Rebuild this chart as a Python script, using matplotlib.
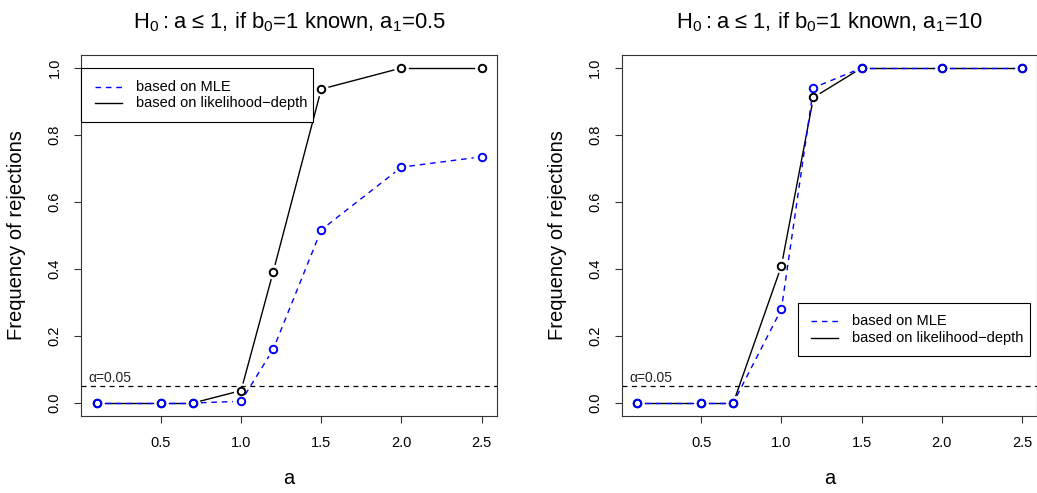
import numpy as np
import matplotlib
matplotlib.use('Agg')
import matplotlib.pyplot as plt
from matplotlib.patches import Rectangle

plt.rcParams['font.family'] = ['Liberation Sans', 'DejaVu Sans']
plt.rcParams['mathtext.fontset'] = 'custom'
plt.rcParams['mathtext.rm'] = 'Liberation Sans'
plt.rcParams['mathtext.it'] = 'Liberation Sans:italic'

# values of a at which the tests were run
a_vals = [0.1, 0.5, 0.7, 1.0, 1.2, 1.5, 2.0, 2.5]

# left panel: a1 = 0.5
mle_left = [0.0, 0.0, 0.0, 0.005, 0.16, 0.517, 0.704, 0.735]
depth_left = [0.0, 0.0, 0.0, 0.037, 0.391, 0.937, 1.0, 1.0]

# right panel: a1 = 10
mle_right = [0.0, 0.0, 0.0, 0.28, 0.941, 1.0, 1.0, 1.0]
depth_right = [0.0, 0.0, 0.0, 0.409, 0.912, 1.0, 1.0, 1.0]

alpha = 0.05
x_ticks = [0.5, 1.0, 1.5, 2.0, 2.5]
y_ticks = [0.0, 0.2, 0.4, 0.6, 0.8, 1.0]

W, H = 1037, 493
fig = plt.figure(figsize=(W / 100, H / 100), dpi=100)

ax_w, ax_h = 415.8, 361.8  # axes size in pixels
TICK_FS = 10.5
LAB_FS = 14.5
TITLE_FS = 15.8


def draw_type_b(ax, x, y, color, dashed, gap=8.0):
    # R style type="b": points joined by lines that stop short of each point
    pts = ax.transData.transform(np.column_stack([x, y]))
    inv = ax.transData.inverted()
    for i in range(len(pts) - 1):
        p0, p1 = pts[i], pts[i + 1]
        d = p1 - p0
        L = np.hypot(*d)
        if L <= 2 * gap:
            continue
        u = d / L
        seg = inv.transform(np.array([p0 + u * gap, p1 - u * gap]))
        ln, = ax.plot(seg[:, 0], seg[:, 1], color=color, lw=1.0)
        if dashed:
            ln.set_dashes((4, 3.5))
    ax.plot(x, y, 'o', color=color, mfc='none', ms=5.4, mew=1.4, ls='none')


def draw_legend(ax, x0, y0):
    # x0, y0: top-left corner of legend box, pixels from axes top-left
    fx = lambda px: (x0 + px) / ax_w
    fy = lambda py: 1 - (y0 + py) / ax_h
    ax.add_patch(Rectangle((fx(0), fy(53.4)), 232 / ax_w, 53.4 / ax_h,
                           transform=ax.transAxes, fill=True, fc='white',
                           ec='black', lw=0.8, zorder=5, clip_on=False))
    rows = [('based on MLE', 'blue', True), ('based on likelihood\u2212depth', 'black', False)]
    for k, (lab, col, dashed) in enumerate(rows):
        yy = fy(18.4 + k * 16.6)
        ln, = ax.plot([fx(13.7), fx(40.7)], [yy, yy], color=col, lw=1.0,
                      transform=ax.transAxes, zorder=6, clip_on=False)
        if dashed:
            ln.set_dashes((4, 3.5))
        ax.text(fx(54.7), yy, lab, transform=ax.transAxes, fontsize=TICK_FS,
                va='center', ha='left', zorder=6)


def panel(left_px, a1_text, mle, depth, legend_pos):
    ax = fig.add_axes([left_px / W, (H - 416.4) / H, ax_w / W, ax_h / H])
    ax.set_xlim(0.004, 2.596)
    ax.set_ylim(-0.04, 1.04)

    ax.axhline(alpha, color='black', lw=0.9, dashes=(4, 3.5))
    ax.text(0.05, alpha + 0.004, '\u03b1=0.05', fontsize=TICK_FS - 0.5,
            ha='left', va='bottom', color='#222222')

    draw_type_b(ax, a_vals, depth, 'black', dashed=False)
    draw_type_b(ax, a_vals, mle, 'blue', dashed=True)

    ax.set_xticks(x_ticks)
    ax.set_xticklabels(['%.1f' % v for v in x_ticks], fontsize=TICK_FS)
    ax.set_yticks(y_ticks)
    ax.set_yticklabels(['%.1f' % v for v in y_ticks], fontsize=TICK_FS,
                       rotation=90, va='center')
    ax.tick_params(direction='out', length=5.2, width=0.8, color='#333333')
    ax.tick_params(axis='x', pad=9)
    ax.tick_params(axis='y', pad=9)
    for s in ax.spines.values():
        s.set_linewidth(0.8)
        s.set_color('#333333')

    ax.text(0.5, 1 + 32.0 / ax_h,
            'H$_0$\u2009:\u2009a \u2264 1, if b$_0$=1 known, a$_1$=' + a1_text,
            transform=ax.transAxes, ha='center', va='center', fontsize=TITLE_FS)
    ax.text(0.5, -(478 - 416.4) / ax_h, 'a', transform=ax.transAxes,
            ha='center', va='center', fontsize=LAB_FS)
    ax.text(-(64.3) / ax_w, 0.5,
            'Frequency of rejections', transform=ax.transAxes, rotation=90,
            ha='center', va='center', fontsize=LAB_FS)

    draw_legend(ax, *legend_pos)
    return ax


panel(81.3, '0.5', mle_left, depth_left, (0.0, 13.7))
panel(621.6, '10', mle_right, depth_right, (176.1, 248.1))

plt.savefig('out.png', dpi=100)
